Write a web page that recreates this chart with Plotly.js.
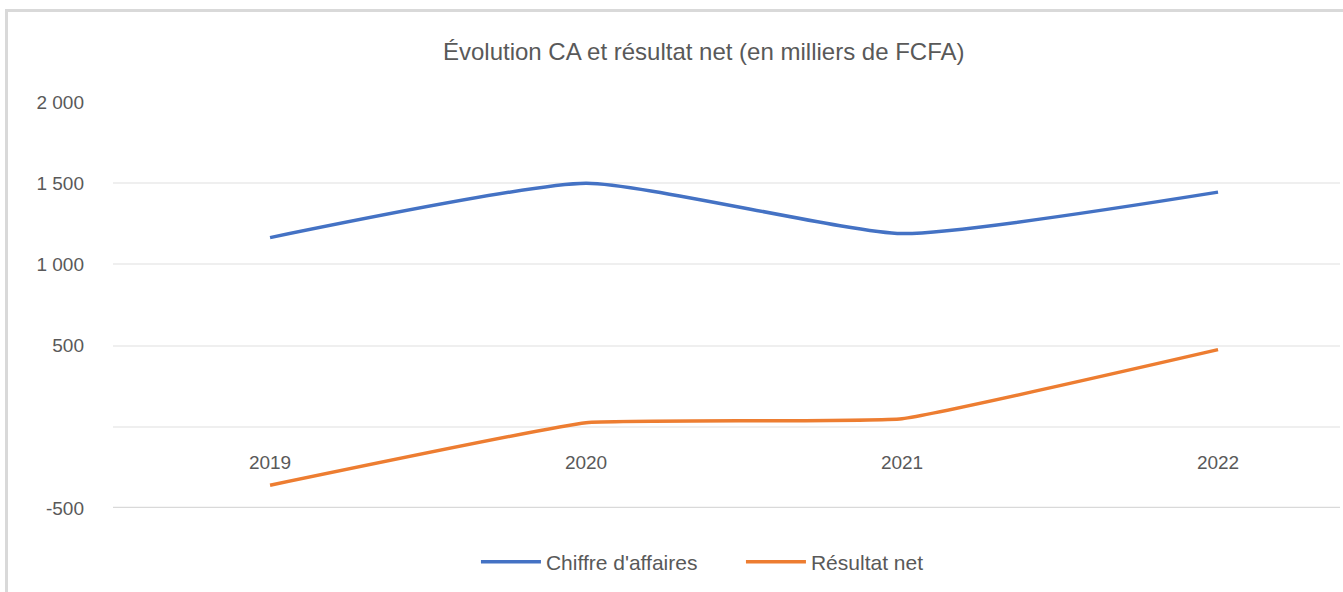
<!DOCTYPE html>
<html>
<head>
<meta charset="utf-8">
<script src="https://cdn.plot.ly/plotly-3.0.1.min.js"></script>
<style>
html,body{margin:0;padding:0;background:#fff;overflow:hidden;}
#chart{position:absolute;left:0;top:0;width:1343px;height:592px;}
#frame{position:absolute;left:5px;top:9px;width:1400px;height:700px;border:3px solid #d9d9d9;box-sizing:border-box;pointer-events:none;}
</style>
</head>
<body>
<div id="chart"></div>
<div id="frame"></div>
<script>
const years = ['2019', '2020', '2021', '2022'];
const chiffreAffaires = [1165, 1500, 1190, 1445];
const resultatNet = [-360, 25, 50, 475];
const yTickVals = [-500, 0, 500, 1000, 1500, 2000];
const yTickText = ['-500', '', '500', '1 000', '1 500', '2 000'];
const seriesNames = ["Chiffre d'affaires", 'Résultat net'];
const titleText = 'Évolution CA et résultat net (en milliers de FCFA)';

const fontFam = '"Liberation Sans", Arial, sans-serif';
const grey = '#595959';

const traces = [
  {x: [0,1,2,3], y: chiffreAffaires, name: seriesNames[0], type: 'scatter', mode: 'lines',
   line: {color: '#4472c4', width: 3.5, shape: 'spline', smoothing: 0.5}},
  {x: [0,1,2,3], y: resultatNet, name: seriesNames[1], type: 'scatter', mode: 'lines',
   line: {color: '#ed7d31', width: 3.5, shape: 'spline', smoothing: 0.3}}
];

const layout = {
  width: 1343, height: 592,
  margin: {l: 113, r: 3, t: 102, b: 84},
  paper_bgcolor: '#ffffff', plot_bgcolor: '#ffffff',
  font: {family: fontFam, color: grey, size: 19},
  title: {text: titleText, font: {family: fontFam, size: 24, color: grey},
          xref: 'container', x: 0.524, xanchor: 'center',
          yref: 'container', y: 1 - 52/592, yanchor: 'middle'},
  showlegend: true,
  legend: {orientation: 'h', xref: 'paper', x: 0.2958, xanchor: 'left',
           yref: 'paper', y: -0.133, yanchor: 'middle',
           font: {family: fontFam, size: 21, color: grey}, itemwidth: 60,
           entrywidth: 190, entrywidthmode: 'pixels',
           bgcolor: 'rgba(0,0,0,0)'},
  xaxis: {type: 'linear', range: [-0.497, 3.386], tickvals: [0,1,2,3], ticktext: years,
          showgrid: false, zeroline: false, showline: false, ticks: '',
          anchor: 'free', position: 0.2, ticklabelstandoff: 22,
          tickfont: {family: fontFam, size: 19, color: grey}},
  yaxis: {range: [-500, 2000], tickvals: yTickVals, ticktext: yTickText,
          showgrid: true, gridcolor: '#efefef', gridwidth: 2, zeroline: false,
          showline: false, ticks: '', ticklabelstandoff: 28,
          tickfont: {family: fontFam, size: 19, color: grey}},
  shapes: [
    {type: 'line', xref: 'paper', yref: 'y', x0: 0, x1: 1, y0: -500, y1: -500,
     line: {color: '#d9d9d9', width: 2.5}, layer: 'below'}
  ]
};

Plotly.newPlot('chart', traces, layout, {displayModeBar: false, staticPlot: true});
</script>
</body>
</html>
